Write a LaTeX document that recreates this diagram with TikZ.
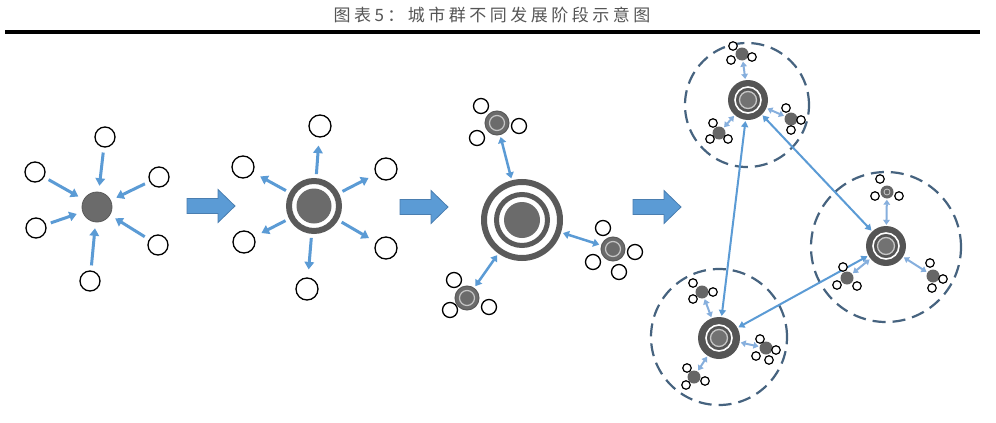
\documentclass[tikz,border=0pt]{standalone}
\usepackage{fontspec}
\newfontfamily\cjk{Noto Sans CJK SC}
\usetikzlibrary{arrows.meta}
\definecolor{arrowblue}{HTML}{5B9BD5}
\definecolor{lightblue}{HTML}{86AFDD}
\definecolor{diskgray}{HTML}{6B6B6B}
\definecolor{ringgray}{HTML}{5A5A5A}
\definecolor{hubgray}{HTML}{555555}
\definecolor{dashblue}{HTML}{46637F}
\definecolor{titlegray}{HTML}{555555}
\definecolor{blockedge}{HTML}{4A7EB0}
\begin{document}
\begin{tikzpicture}[x=1pt,y=-1pt,
  town/.style={circle,draw=black,line width=1.3pt,minimum size=#1,inner sep=0pt,fill=white},
  tinytown/.style={circle,draw=black,line width=1.2pt,minimum size=8.5pt,inner sep=0pt,fill=white},
  flow/.style={draw=arrowblue,line width=3pt,-{Triangle[width=9.5pt,length=7.5pt]},shorten <=5pt,shorten >=6pt},
  dflow/.style={draw=arrowblue,line width=2.5pt,{Triangle[width=8pt,length=6pt]}-{Triangle[width=8pt,length=6pt]},shorten <=2pt,shorten >=2pt},
  mflow/.style={draw=lightblue,line width=2pt,{Triangle[width=6.5pt,length=5pt]}-{Triangle[width=6.5pt,length=5pt]},shorten <=1pt,shorten >=1pt},
  link/.style={draw=arrowblue,line width=2pt,{Triangle[width=7pt,length=6pt]}-{Triangle[width=7pt,length=6pt]},shorten <=1pt,shorten >=1pt},
  zone/.style={circle,draw=dashblue,line width=2.2pt,dash pattern=on 13pt off 7pt,minimum size=#1,inner sep=0pt},
  sat/.style={circle,fill=diskgray,draw=ringgray,line width=1pt,minimum size=24pt,inner sep=0pt},
  tinysat/.style={circle,fill=hubgray!90,minimum size=13pt,inner sep=0pt},
  hub/.style={circle,fill=hubgray,minimum size=#1,inner sep=0pt},
  blockarrow/.pic={\draw[fill=arrowblue,draw=blockedge,line width=0.8pt]
     (0,-7.5) -- (31,-7.5) -- (31,-16.5) -- (48,0) -- (31,16.5) -- (31,7.5) -- (0,7.5) -- cycle;}
]
\useasboundingbox (0,0) rectangle (996,423);
\fill[white] (0,0) rectangle (996,423);

% title
\node[text=titlegray,font=\cjk\fontsize{17}{18}\selectfont,inner sep=0pt] (title) at (492,15)
  {图\kern3.5pt 表\kern3.5pt 5\kern3.5pt ：\kern3.5pt 城\kern3.5pt 市\kern3.5pt 群\kern3.5pt 不\kern3.5pt 同\kern3.5pt 发\kern3.5pt 展\kern3.5pt 阶\kern3.5pt 段\kern3.5pt 示\kern3.5pt 意\kern3.5pt 图};
\draw[line width=3.7pt,black] (5,32) -- (980,32);

% ---------- stage 1 ----------
\node[circle,fill=diskgray,draw=ringgray,line width=0.8pt,minimum size=30pt,inner sep=0pt] (c1) at (97,207) {};
\foreach \p [count=\i] in {(105,137),(35,172),(159,177),(36,228),(158,245),(90,281)}
  \node[town=20pt] (a\i) at \p {};
\foreach \i in {1,...,6} \draw[flow] (a\i) -- (c1);

\pic (ba1) at (187,206) {blockarrow};

% ---------- stage 2 ----------
\node[circle,draw=ringgray,line width=6pt,minimum size=50pt,inner sep=0pt] (c2) at (314,206) {};
\node[circle,fill=diskgray,minimum size=35pt,inner sep=0pt] (c2in) at (c2) {};
\foreach \p [count=\i] in {(320,126),(243,167),(386,169),(244,242),(386,248),(307,289)}
  \node[town=22pt] (b\i) at \p {};
\foreach \i in {1,...,6} \draw[flow,shorten <=4pt,shorten >=8pt] (c2) -- (b\i);

\pic (ba2) at (400,207) {blockarrow};

% ---------- stage 3 ----------
\node[circle,draw=ringgray,line width=6pt,minimum size=76pt,inner sep=0pt] (c3) at (522,220) {};
\node[circle,draw=ringgray,line width=5pt,minimum size=51pt,inner sep=0pt] (c3mid) at (c3) {};
\node[circle,fill=diskgray,minimum size=36pt,inner sep=0pt] (c3in) at (c3) {};

\node[sat] (s1) at (497,123) {};
\node[sat] (s2) at (613,249) {};
\node[sat] (s3) at (467,298) {};
\foreach \s in {s1,s2,s3} \draw[draw=gray!45,line width=1.2pt] (\s) circle (7.5);
\foreach \p [count=\i] in {(481,106),(519,126),(477,138)} \node[town=15pt] (s1t\i) at \p {};
\foreach \p [count=\i] in {(603,228),(635,252),(593,262),(619,272)} \node[town=15pt] (s2t\i) at \p {};
\foreach \p [count=\i] in {(454,280),(450,310),(489,307)} \node[town=15pt] (s3t\i) at \p {};
\draw[dflow] (c3) -- (s1);
\draw[dflow] (c3) -- (s2);
\draw[dflow] (c3) -- (s3);

\pic (ba3) at (633,207) {blockarrow};

% ---------- stage 4 ----------
\node[zone=124pt] (zA) at (747,105) {};
\node[zone=150pt] (zB) at (886,247) {};
\node[zone=136pt] (zC) at (719,337) {};

\node[hub=40pt] (HA) at (748,100) {};
\node[hub=40pt] (HB) at (886,246) {};
\node[hub=42pt] (HC) at (719,338) {};
\foreach \h in {HA,HB,HC} {
  \draw[white,line width=1.6pt] (\h) circle (13);
  \fill[diskgray!95] (\h) circle (8.5);
  \draw[gray!45,line width=1.3pt] (\h) circle (8.5);
}

% sub-satellites
\node[tinysat] (A1) at (742,54) {};
\node[tinysat] (A2) at (791,119) {};
\node[tinysat] (A3) at (719,133) {};
\node[tinysat] (B1) at (887,192) {};
\node[tinysat] (B2) at (847,278) {};
\node[tinysat] (B3) at (933,276) {};
\node[tinysat] (C1) at (702,292) {};
\node[tinysat] (C2) at (766,348) {};
\node[tinysat] (C3) at (694,377) {};

\draw[gray!45,line width=0.8pt] (B1) circle (3);

\draw[link] (HA) -- (HC);
\draw[link] (HA) -- (HB);
\draw[link] (HC) -- (HB);

\foreach \p [count=\i] in {(733,46),(752,57),(731,60)} \node[tinytown] (A1t\i) at \p {};
\foreach \p [count=\i] in {(786,108),(801,120),(791,130)} \node[tinytown] (A2t\i) at \p {};
\foreach \p [count=\i] in {(713,123),(710,139),(728,139)} \node[tinytown] (A3t\i) at \p {};
\foreach \p [count=\i] in {(880,179),(875,196),(899,196)} \node[tinytown] (B1t\i) at \p {};
\foreach \p [count=\i] in {(843,267),(837,285),(857,286)} \node[tinytown] (B2t\i) at \p {};
\foreach \p [count=\i] in {(930,263),(943,279),(932,288)} \node[tinytown] (B3t\i) at \p {};
\foreach \p [count=\i] in {(693,283),(713,292),(693,299)} \node[tinytown] (C1t\i) at \p {};
\foreach \p [count=\i] in {(760,339),(776,350),(769,360),(756,356)} \node[tinytown] (C2t\i) at \p {};
\foreach \p [count=\i] in {(687,368),(686,385),(705,381)} \node[tinytown] (C3t\i) at \p {};

\draw[mflow] (HA) -- (A1);
\draw[mflow] (HA) -- (A2);
\draw[mflow] (HA) -- (A3);
\draw[mflow] (HB) -- (B1);
\draw[mflow] (HB) -- (B2);
\draw[mflow] (HB) -- (B3);
\draw[mflow] (HC) -- (C1);
\draw[mflow] (HC) -- (C2);
\draw[mflow] (HC) -- (C3);
\end{tikzpicture}
\end{document}
